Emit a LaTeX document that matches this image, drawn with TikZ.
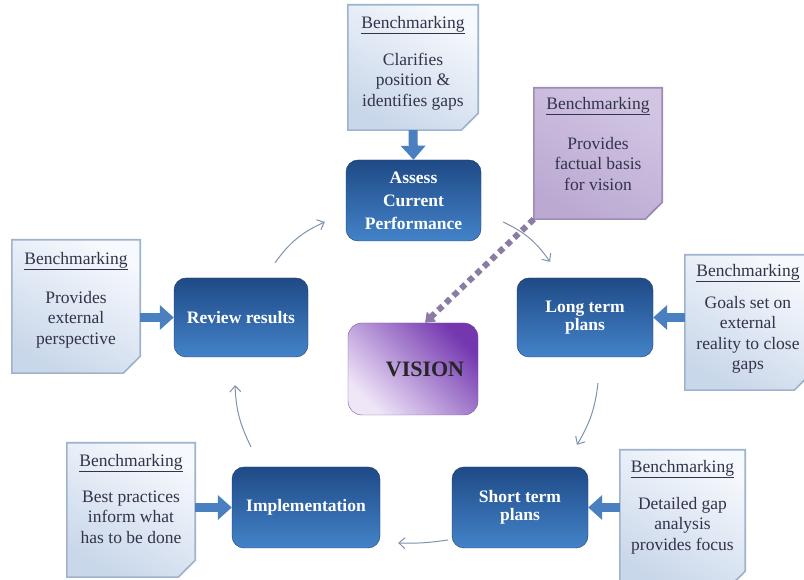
\documentclass[tikz,border=0pt]{standalone}
\usepackage{fontspec}
\setmainfont{Liberation Serif}
\usetikzlibrary{arrows.meta}
\definecolor{notetop}{HTML}{F6F9FD}
\definecolor{notebot}{HTML}{C9D7EA}
\definecolor{noteline}{HTML}{9FB3CC}
\definecolor{notefold}{HTML}{9DB0C9}
\definecolor{notetext}{HTML}{33334A}
\definecolor{vnotetop}{HTML}{D2C5E3}
\definecolor{vnotebot}{HTML}{BBA9D2}
\definecolor{vnoteline}{HTML}{9C8CB6}
\definecolor{vnotefold}{HTML}{9383B2}
\definecolor{stagetop}{HTML}{1F4A86}
\definecolor{stagebot}{HTML}{4383C9}
\definecolor{blkarrow}{HTML}{4A7FC0}
\definecolor{cycline}{HTML}{7E93AD}
\definecolor{visdark}{HTML}{7437B0}
\definecolor{vislight}{HTML}{EFE6F8}
\definecolor{dotline}{HTML}{8B7CA6}
\begin{document}
\begin{tikzpicture}[x=1pt,y=1pt,
  note/.style={minimum width=128pt,minimum height=132pt,inner sep=0pt},
  notetxt/.style={anchor=north,align=center,inner sep=0pt,text=notetext,font=\fontsize{17.5}{20.5}\selectfont},
  stage/.style={rounded corners=12pt,draw=stagetop!80!black,top color=stagetop,bottom color=stagebot,text=white,align=center,
    font=\bfseries\fontsize{17.5}{18}\selectfont,minimum width=136pt,minimum height=80pt,inner sep=2pt},
  vision/.style={rounded corners=14pt,draw=visdark!60!gray,top color=visdark,bottom color=vislight,shading angle=-45,
    font=\bfseries\fontsize{22}{24}\selectfont,text=black!85,minimum width=130pt,minimum height=92pt},
  blk/.style={draw=blkarrow,line width=9pt,-{Triangle[length=14pt,width=24pt]}},
  cyc/.style={draw=cycline,line width=1pt,-{Straight Barb[length=6pt,width=11pt]}}]
  \useasboundingbox[fill=white] (0,0) rectangle (804,580);
  \node[note,minimum width=130pt,minimum height=125pt] (nAss) at (413,512.5) {};
  \node[note,minimum height=131pt] (nVis) at (598,426.5) {};
  \node[note,minimum width=126pt,minimum height=135pt] (nLng) at (748,257.5) {};
  \node[note,minimum height=133pt] (nRev) at (76,273.5) {};
  \node[note,minimum width=125pt,minimum height=138pt] (nSht) at (682.5,61) {};
  \node[note,minimum height=134pt] (nImp) at (131,70) {};
  \foreach \n/\ft/\fb/\ln/\fd in {nAss/notetop/notebot/noteline/notefold,nVis/vnotetop/vnotebot/vnoteline/vnotefold,
      nLng/notetop/notebot/noteline/notefold,nRev/notetop/notebot/noteline/notefold,
      nSht/notetop/notebot/noteline/notefold,nImp/notetop/notebot/noteline/notefold}{
    \draw[draw=\ln,line width=1.6pt,top color=\ft,bottom color=\fb,shading angle=-30]
      (\n.north west) -- (\n.north east) -- ([yshift=17]\n.south east) -- ([xshift=-17]\n.south east) -- (\n.south west) -- cycle;
    \fill[\fd] ([yshift=17]\n.south east) .. controls ([xshift=-7,yshift=9]\n.south east) .. ([xshift=-17]\n.south east)
      -- ([xshift=-9,yshift=9]\n.south east) -- cycle;
  }
  \node[notetxt] (tAss) at ([yshift=-11]nAss.north) {\underline{Benchmarking}\\[16.5pt]Clarifies\\position \&\\identifies gaps};
  \node[notetxt] (tVis) at ([yshift=-9]nVis.north) {\underline{Benchmarking}\\[19.5pt]Provides\\factual basis\\for vision};
  \node[notetxt] (tLng) at ([yshift=-9]nLng.north) {\underline{Benchmarking}\\[11.5pt]Goals set on\\external\\reality to close\\gaps};
  \node[notetxt] (tRev) at ([yshift=-12]nRev.north) {\underline{Benchmarking}\\[18.5pt]Provides\\external\\perspective};
  \node[notetxt] (tSht) at ([yshift=-10]nSht.north) {\underline{Benchmarking}\\[16.5pt]Detailed gap\\analysis\\provides focus};
  \node[notetxt] (tImp) at ([yshift=-11]nImp.north) {\underline{Benchmarking}\\[15.5pt]Best practices\\inform what\\has to be done};
  \node[stage,minimum width=135pt,minimum height=81pt] (ass) at (413.5,379.5) {Assess\\[5pt]Current\\[5pt]Performance};
  \node[stage,minimum width=134pt,minimum height=79pt] (rev) at (241,262.5) {Review results};
  \node[stage,minimum height=79pt] (lng) at (585,262.5) {Long term\\plans};
  \node[stage,minimum height=81pt] (sht) at (520,72.5) {Short term\\plans};
  \node[stage,minimum width=148pt,minimum height=81pt] (imp) at (306,72.5) {Implementation};
  \node[vision] (vis) at (413,211) {\hspace*{24pt}VISION};
  \draw[blk] (nAss.south) -- (ass.north);
  \draw[blk] (nRev.east |- rev.west) -- (rev.west);
  \draw[blk] (nLng.west |- lng.east) -- (lng.east);
  \draw[blk] (nSht.west |- sht.east) -- (sht.east);
  \draw[blk] (nImp.east |- imp.west) -- (imp.west);
  \draw[dotline,line width=6pt,dash pattern=on 6pt off 4.5pt,-{Triangle[length=9pt,width=13pt]}] (nVis.south west) -- ([xshift=12]vis.north);
  \draw[cyc] ([xshift=34,yshift=15]rev.north) to[bend left=15] ([xshift=-21,yshift=-21.5]ass.west);
  \draw[cyc] ([xshift=22,yshift=-21.5]ass.east) to[bend left=15] ([xshift=-35,yshift=16]lng.north);
  \draw[cyc] ([xshift=13,yshift=-26]lng.south) to[bend left=12] ([xshift=57,yshift=22]sht.north);
  \draw[cyc] ([xshift=-4,yshift=-32.5]sht.west) to[bend left=5] ([xshift=18,yshift=-35.5]imp.east);
  \draw[cyc] ([xshift=-55,yshift=20]imp.north) to[bend left=12] ([xshift=-6,yshift=-28]rev.south);
\end{tikzpicture}
\end{document}
